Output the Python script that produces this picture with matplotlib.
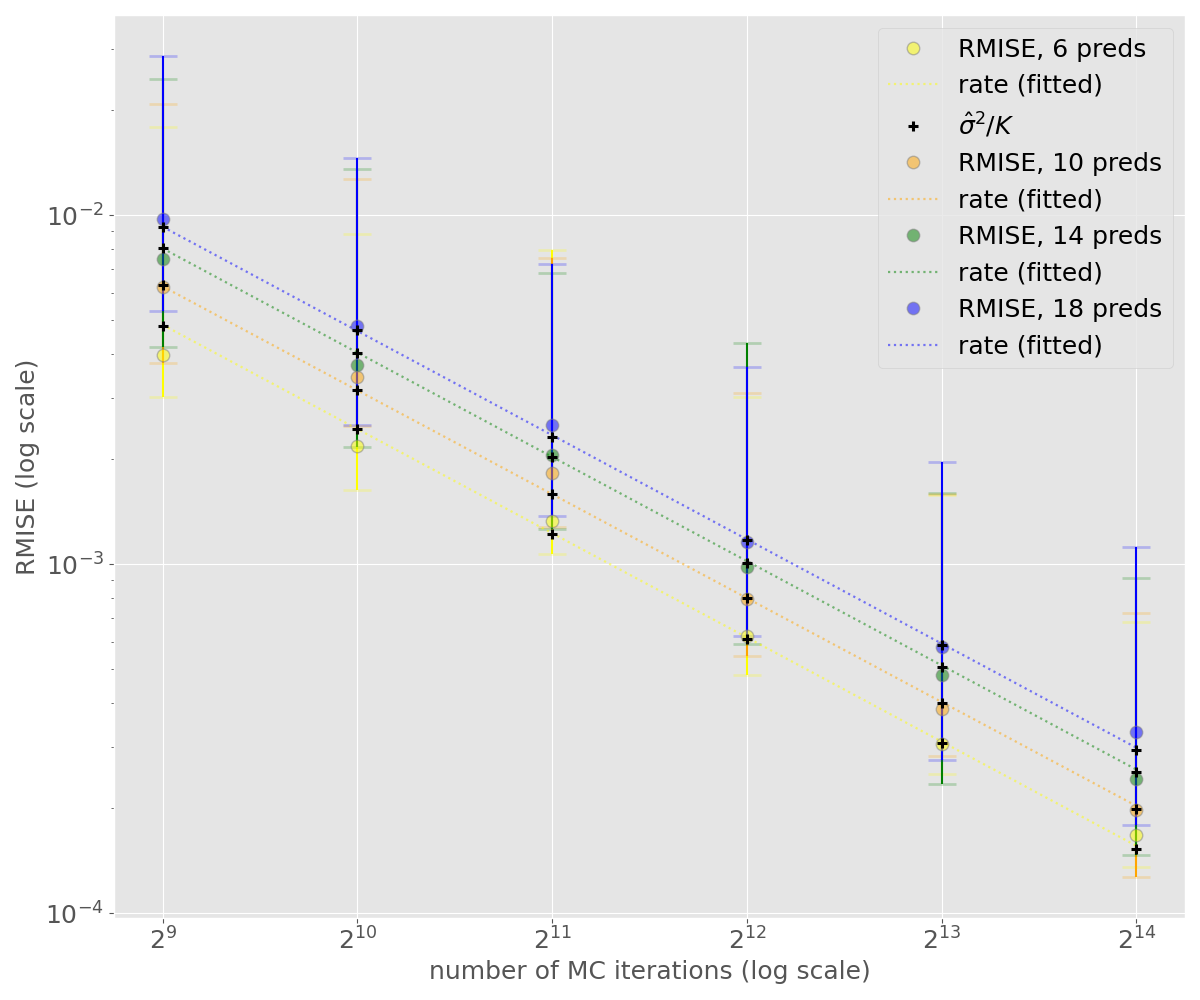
import numpy as np
import matplotlib
matplotlib.use("Agg")
import matplotlib.pyplot as plt

plt.style.use("ggplot")

# number of MC iterations
iters = [2**9, 2**10, 2**11, 2**12, 2**13, 2**14]

n_preds = [6, 10, 14, 18]
colors = ["yellow", "orange", "green", "blue"]

# RMISE means
rmise = {
    6:  [3.98e-3, 2.18e-3, 1.33e-3, 6.22e-4, 3.06e-4, 1.68e-4],
    10: [6.22e-3, 3.44e-3, 1.82e-3, 7.95e-4, 3.85e-4, 1.98e-4],
    14: [7.47e-3, 3.72e-3, 2.05e-3, 9.82e-4, 4.82e-4, 2.43e-4],
    18: [9.72e-3, 4.82e-3, 2.50e-3, 1.16e-3, 5.79e-4, 3.31e-4],
}
# error bar ends
rmise_lo = {
    6:  [3.02e-3, 1.63e-3, 1.07e-3, 4.81e-4, 2.50e-4, 1.36e-4],
    10: [3.78e-3, 2.49e-3, 1.28e-3, 5.47e-4, 2.82e-4, 1.27e-4],
    14: [4.20e-3, 2.16e-3, 1.26e-3, 5.89e-4, 2.34e-4, 1.47e-4],
    18: [5.31e-3, 2.51e-3, 1.37e-3, 6.24e-4, 2.75e-4, 1.79e-4],
}
rmise_hi = {
    6:  [1.789e-2, 8.81e-3, 7.94e-3, 3.02e-3, 1.575e-3, 6.83e-4],
    10: [2.078e-2, 1.27e-2, 7.53e-3, 3.09e-3, 1.585e-3, 7.23e-4],
    14: [2.449e-2, 1.356e-2, 6.84e-3, 4.30e-3, 1.595e-3, 9.11e-4],
    18: [2.857e-2, 1.459e-2, 7.26e-3, 3.68e-3, 1.956e-3, 1.117e-3],
}
# sigma^2 / K estimates
sig2_k = {
    6:  [4.82e-3, 2.44e-3, 1.22e-3, 6.11e-4, 3.08e-4, 1.53e-4],
    10: [6.31e-3, 3.16e-3, 1.59e-3, 7.99e-4, 3.99e-4, 1.99e-4],
    14: [8.03e-3, 4.04e-3, 2.03e-3, 1.008e-3, 5.07e-4, 2.54e-4],
    18: [9.26e-3, 4.69e-3, 2.32e-3, 1.175e-3, 5.86e-4, 2.94e-4],
}
# fitted rate line, value at first and last iteration count
fit_ends = {
    6:  [4.85e-3, 1.56e-4],
    10: [6.25e-3, 2.03e-4],
    14: [8.03e-3, 2.58e-4],
    18: [9.26e-3, 2.98e-4],
}

fig, ax = plt.subplots(figsize=(12, 10), dpi=100)
fig.subplots_adjust(left=0.095, right=0.9875, top=0.985, bottom=0.082)

for i, (p, c) in enumerate(zip(n_preds, colors)):
    y = np.array(rmise[p])
    lo = y - np.array(rmise_lo[p])
    hi = np.array(rmise_hi[p]) - y
    _, caps, bars = ax.errorbar(iters, y, yerr=[lo, hi], fmt="none", ecolor=c,
                                elinewidth=1.5, capsize=10, capthick=2, zorder=2)
    for cap in caps:
        cap.set_alpha(0.22)
    ax.plot(iters, y, "o", color=c, alpha=0.5, ms=9, mec="grey",
            label="RMISE, %d preds" % p, zorder=3)
    ax.plot([iters[0], iters[-1]], fit_ends[p], ":", color=c, alpha=0.5,
            lw=1.6, label="rate (fitted)", zorder=2.5)
    ax.plot(iters, sig2_k[p], "+", color="black", ms=7, mew=2.2,
            label=r"$\hat{\sigma}^2/K$" if i == 0 else None, zorder=4)

ax.set_xscale("log", base=2)
ax.set_yscale("log")
ax.set_xticks(iters)
ax.tick_params(axis="both", which="major", labelsize=18)
ax.set_xlabel("number of MC iterations (log scale)", fontsize=18)
ax.set_ylabel("RMISE (log scale)", fontsize=18)
ax.legend(loc="upper right", fontsize=18)

fig.savefig("out.png", dpi=100)
